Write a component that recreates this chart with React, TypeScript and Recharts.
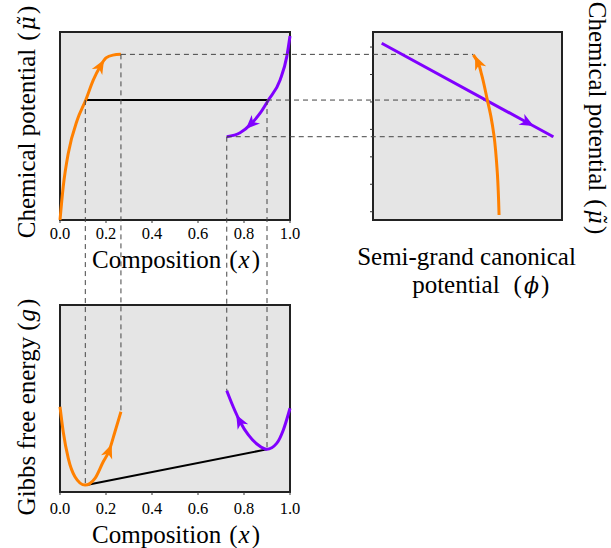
import React from "react";
import {
    ComposedChart,
    Line,
    XAxis,
    YAxis,
    CartesianGrid,
    ReferenceArea,
    ReferenceLine,
} from "recharts";

// ---- chemical potential vs composition (top left) ----
const muOrangeX = [0, 0.014, 0.036, 0.075, 0.112, 0.145, 0.174, 0.2, 0.23, 0.265];
const muOrangeY = [0, 0.177, 0.355, 0.532, 0.638, 0.745, 0.815, 0.862, 0.877, 0.881];
const muPurpleX = [0.725, 0.783, 0.833, 0.87, 0.906, 0.957, 0.986, 1.0];
const muPurpleY = [0.443, 0.464, 0.514, 0.568, 0.638, 0.745, 0.869, 0.979];
const muTieX = [0.112, 0.9];
const muTieY = [0.638, 0.638];

// ---- chemical potential vs semi-grand canonical potential (top right) ----
const phiOrangeX = [0.667, 0.658, 0.64, 0.624, 0.605, 0.573, 0.557, 0.531];
const phiOrangeY = [0.027, 0.248, 0.45, 0.55, 0.638, 0.78, 0.834, 0.878];
const phiPurpleX = [0.046, 0.813, 0.954];
const phiPurpleY = [0.94, 0.52, 0.443];
const phiTicks = [0.044, 0.19, 0.336, 0.482, 0.628, 0.774, 0.92];

// ---- gibbs free energy vs composition (bottom) ----
const gOrangeX = [0, 0.014, 0.036, 0.065, 0.109, 0.152, 0.188, 0.212, 0.239, 0.265];
const gOrangeY = [0.456, 0.322, 0.18, 0.082, 0.037, 0.073, 0.162, 0.215, 0.322, 0.429];
const gPurpleX = [0.725, 0.753, 0.783, 0.819, 0.862, 0.899, 0.942, 0.971, 1.0];
const gPurpleY = [0.542, 0.456, 0.376, 0.305, 0.251, 0.228, 0.26, 0.332, 0.448];
const gTieX = [0.115, 0.899];
const gTieY = [0.038, 0.228];

const xTicks = [0, 0.2, 0.4, 0.6, 0.8, 1.0];

// guide lines (dashed)
const vGuideX = [0.11, 0.265, 0.725, 0.9];
const vGuideMu = [0.638, 0.881, 0.443, 0.638];
const vGuideG = [0.037, 0.429, 0.542, 0.228];
const hGuideX = [0.265, 0.9, 0.725];
const hGuideMu = [0.881, 0.638, 0.443];
const hGuidePhi = [0.531, 0.6, 0.954];

// plot boxes on the page
const A = { left: 60, top: 32, w: 230, h: 188 };
const B = { left: 373, top: 32, w: 189, h: 188 };
const C = { left: 60, top: 305, w: 230, h: 187 };

const ORANGE = "#ff8000";
const PURPLE = "#8000ff";
const BG = "#e5e5e5";
const FONT = "Liberation Serif";
const MATH = "DejaVu Serif";

const zip = (xs: number[], ys: number[]) => xs.map((x, i) => ({ x, y: ys[i] }));

// composition in top-left -> phi units of top-right (for the horizontal guides)
const toPhi = (x: number) => (A.left + x * A.w - B.left) / B.w;
// mu in top-left -> g units of bottom (for the vertical guides)
const muToG = (mu: number) => (C.top + C.h - (A.top + (1 - mu) * A.h)) / C.h;

function arrowDot(at: number, color: string, reverse = false) {
    return (props: any) => {
        const { cx, cy, index, points } = props;
        if (index !== at || !points) return <g key={`d${index}`} />;
        const a = points[Math.max(index - 1, 0)];
        const b = points[Math.min(index + 1, points.length - 1)];
        let ang = (Math.atan2(b.y - a.y, b.x - a.x) * 180) / Math.PI;
        if (reverse) ang += 180;
        return (
            <path
                key={`d${index}`}
                d="M8,0 L-6,-6 L-2,0 L-6,6 Z"
                fill={color}
                transform={`translate(${cx},${cy}) rotate(${ang})`}
            />
        );
    };
}

const xTick = (props: any) => (
    <text
        x={props.x}
        y={props.y}
        dy="0.68em"
        textAnchor="middle"
        fontSize={16.5}
        fontFamily={FONT}
        fill="#000"
    >
        {Number(props.payload.value).toFixed(1)}
    </text>
);
const noTick = () => <g />;
const dash = { stroke: "#444", strokeWidth: 1, strokeDasharray: "5 4" };

function CompositionTitle({ x, y }: { x: number; y: number }) {
    return (
        <text x={x} y={y} textAnchor="middle" fontSize={25} fontFamily={FONT} fill="#000">
            Composition
            <tspan dx={8}>(</tspan>
            <tspan fontStyle="italic" dx={1}>x</tspan>
            <tspan dx={2}>)</tspan>
        </text>
    );
}

function MuTitle({ transform }: { transform: string }) {
    return (
        <text transform={transform} textAnchor="middle" fontSize={25} fontFamily={FONT} fill="#000">
            Chemical potential
            <tspan dx={8}>(</tspan>
            <tspan fontStyle="italic" fontFamily={MATH} fontSize={22} dx={2}>μ̃</tspan>
            <tspan dx={2}>)</tspan>
        </text>
    );
}

function TopLeft() {
    return (
        <ComposedChart
            width={300}
            height={280}
            margin={{ top: A.top, left: A.left, right: 300 - A.left - A.w, bottom: 280 - A.top - A.h - 30 }}
        >
            <CartesianGrid horizontal={false} vertical={false} fill={BG} />
            <XAxis
                type="number"
                dataKey="x"
                domain={[0, 1]}
                ticks={xTicks}
                tick={xTick}
                tickSize={3}
                tickMargin={5}
                axisLine={false}
                tickLine={{ stroke: "#333" }}
                height={30}
            />
            <YAxis type="number" dataKey="y" domain={[0, 1]} hide />
            <ReferenceArea x1={0} x2={1} y1={0} y2={1} fill="none" stroke="#222" strokeWidth={2} ifOverflow="visible" />
            <Line data={zip(muTieX, muTieY)} dataKey="y" type="linear" stroke="#000" strokeWidth={2} dot={false} activeDot={false} isAnimationActive={false} />
            <Line data={zip(muOrangeX, muOrangeY)} dataKey="y" type="monotone" stroke={ORANGE} strokeWidth={3} dot={arrowDot(6, ORANGE)} activeDot={false} isAnimationActive={false} />
            <Line data={zip(muPurpleX, muPurpleY)} dataKey="y" type="monotone" stroke={PURPLE} strokeWidth={3} dot={arrowDot(2, PURPLE, true)} activeDot={false} isAnimationActive={false} />
            <MuTitle transform="translate(35,122) rotate(-90)" />
            <CompositionTitle x={176} y={268} />
        </ComposedChart>
    );
}

function TopRight() {
    return (
        <ComposedChart
            width={311}
            height={300}
            margin={{ top: B.top, left: B.left - 300 - 10, right: 311 - (B.left - 300) - B.w, bottom: 300 - B.top - B.h }}
        >
            <CartesianGrid horizontal={false} vertical={false} fill={BG} />
            <XAxis type="number" dataKey="x" domain={[0, 1]} hide />
            <YAxis
                type="number"
                dataKey="y"
                domain={[0, 1]}
                ticks={phiTicks}
                tick={noTick}
                tickSize={3}
                axisLine={false}
                tickLine={{ stroke: "#333" }}
                width={10}
            />
            <ReferenceArea x1={0} x2={1} y1={0} y2={1} fill="none" stroke="#222" strokeWidth={2} ifOverflow="visible" />
            {hGuideX.map((x, i) => (
                <ReferenceLine
                    key={`h${i}`}
                    segment={[
                        { x: toPhi(x), y: hGuideMu[i] },
                        { x: hGuidePhi[i], y: hGuideMu[i] },
                    ]}
                    {...dash}
                    ifOverflow="visible"
                />
            ))}
            <Line data={zip(phiPurpleX, phiPurpleY)} dataKey="y" type="linear" stroke={PURPLE} strokeWidth={3} dot={arrowDot(1, PURPLE)} activeDot={false} isAnimationActive={false} />
            <Line data={zip(phiOrangeX, phiOrangeY)} dataKey="y" type="monotoneY" stroke={ORANGE} strokeWidth={3} dot={arrowDot(6, ORANGE)} activeDot={false} isAnimationActive={false} />
            <text x={166.5} y={265} textAnchor="middle" fontSize={25} fontFamily={FONT} fill="#000">
                Semi-grand canonical
            </text>
            <text x={180.7} y={293} textAnchor="middle" fontSize={25} fontFamily={FONT} fill="#000">
                potential
                <tspan dx={14}>(</tspan>
                <tspan fontStyle="italic" fontFamily={MATH} fontSize={22} dx={2}>ϕ</tspan>
                <tspan dx={2}>)</tspan>
            </text>
            <MuTitle transform="translate(289,118) rotate(90)" />
        </ComposedChart>
    );
}

function Bottom() {
    const top = C.top - 280;
    return (
        <ComposedChart
            width={300}
            height={268}
            margin={{ top, left: C.left, right: 300 - C.left - C.w, bottom: 268 - top - C.h - 30 }}
        >
            <CartesianGrid horizontal={false} vertical={false} fill={BG} />
            <XAxis
                type="number"
                dataKey="x"
                domain={[0, 1]}
                ticks={xTicks}
                tick={xTick}
                tickSize={3}
                tickMargin={8}
                axisLine={false}
                tickLine={{ stroke: "#333" }}
                height={30}
            />
            <YAxis type="number" dataKey="y" domain={[0, 1]} hide />
            <ReferenceArea x1={0} x2={1} y1={0} y2={1} fill="none" stroke="#222" strokeWidth={2} ifOverflow="visible" />
            {vGuideX.map((x, i) => (
                <ReferenceLine
                    key={`v${i}`}
                    segment={[
                        { x, y: muToG(vGuideMu[i]) },
                        { x, y: vGuideG[i] },
                    ]}
                    {...dash}
                    ifOverflow="visible"
                />
            ))}
            <Line data={zip(gTieX, gTieY)} dataKey="y" type="linear" stroke="#000" strokeWidth={2} dot={false} activeDot={false} isAnimationActive={false} />
            <Line data={zip(gOrangeX, gOrangeY)} dataKey="y" type="monotone" stroke={ORANGE} strokeWidth={3} dot={arrowDot(7, ORANGE)} activeDot={false} isAnimationActive={false} />
            <Line data={zip(gPurpleX, gPurpleY)} dataKey="y" type="monotone" stroke={PURPLE} strokeWidth={3} dot={arrowDot(2, PURPLE, true)} activeDot={false} isAnimationActive={false} />
            <text transform="translate(35,127) rotate(-90)" textAnchor="middle" fontSize={25} fontFamily={FONT} fill="#000">
                Gibbs free energy
                <tspan dx={6}>(</tspan>
                <tspan fontStyle="italic" dx={1}>g</tspan>
                <tspan dx={2}>)</tspan>
            </text>
            <CompositionTitle x={176} y={263} />
        </ComposedChart>
    );
}

export default function App() {
    return (
        <div style={{ position: "absolute", left: 0, top: 0, width: 611, height: 548, background: "#fff" }}>
            <style>{".recharts-surface{overflow:visible}"}</style>
            <div style={{ position: "absolute", left: 0, top: 0 }}>
                <TopLeft />
            </div>
            <div style={{ position: "absolute", left: 300, top: 0 }}>
                <TopRight />
            </div>
            <div style={{ position: "absolute", left: 0, top: 280 }}>
                <Bottom />
            </div>
        </div>
    );
}
